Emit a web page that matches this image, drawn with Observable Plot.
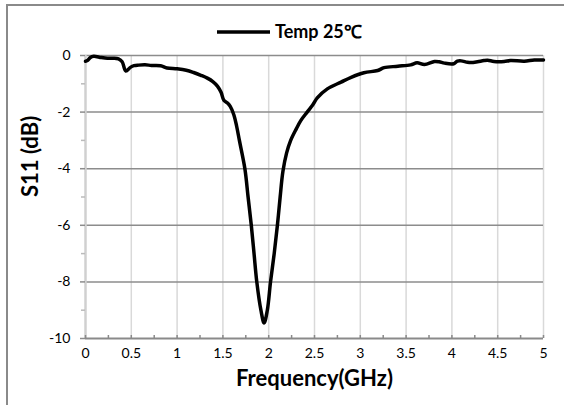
<!DOCTYPE html>
<html><head><meta charset="utf-8">
<script src="https://cdn.jsdelivr.net/npm/d3@7"></script>
<script src="https://cdn.jsdelivr.net/npm/@observablehq/plot@0.6"></script>
<style>
body{margin:0;background:#fff;}
#wrap{position:relative;width:564px;height:405px;overflow:hidden;}
#border{position:absolute;left:6px;top:4px;width:600px;height:500px;border-left:2px solid #8a8a8a;border-top:2px solid #8a8a8a;}
#wrap svg{position:absolute;left:0;top:0;}
</style></head><body><div id="wrap"><div id="border"></div></div>
<script>
const seriesName = "Temp 25℃";
const xTitle = "Frequency(GHz)";
const yTitle = "S11 (dB)";
const freq = [0, 0.02, 0.05, 0.09, 0.15, 0.24, 0.30, 0.36, 0.40, 0.44, 0.49, 0.53, 0.58, 0.65, 0.72, 0.82, 0.89, 1.0, 1.1, 1.18, 1.26, 1.33, 1.39, 1.44, 1.48, 1.51, 1.55, 1.58, 1.62, 1.65, 1.68, 1.74, 1.775, 1.81, 1.84, 1.87, 1.915, 1.95, 1.985, 2.02, 2.06, 2.095, 2.125, 2.155, 2.195, 2.24, 2.30, 2.35, 2.42, 2.48, 2.53, 2.64, 2.79, 2.90, 3.04, 3.19, 3.26, 3.41, 3.55, 3.62, 3.70, 3.81, 3.86, 3.92, 4.02, 4.06, 4.10, 4.17, 4.21, 4.28, 4.35, 4.39, 4.46, 4.57, 4.64, 4.79, 4.90, 5.0];
const s11 = [-0.2, -0.18, -0.08, -0.03, -0.06, -0.1, -0.1, -0.12, -0.22, -0.55, -0.42, -0.36, -0.34, -0.33, -0.35, -0.36, -0.44, -0.47, -0.52, -0.6, -0.7, -0.8, -0.92, -1.08, -1.3, -1.58, -1.68, -1.8, -2.1, -2.5, -3.0, -4.0, -5.0, -6.0, -7.0, -8.0, -9.0, -9.45, -9.0, -8.0, -7.0, -6.0, -5.0, -4.1, -3.45, -3.0, -2.6, -2.3, -2.0, -1.75, -1.5, -1.18, -0.94, -0.77, -0.61, -0.53, -0.43, -0.38, -0.33, -0.26, -0.32, -0.21, -0.22, -0.27, -0.29, -0.2, -0.19, -0.24, -0.25, -0.22, -0.18, -0.17, -0.21, -0.21, -0.18, -0.2, -0.16, -0.16];
const xTicks = [0, 0.5, 1, 1.5, 2, 2.5, 3, 3.5, 4, 4.5, 5];
const xMinorTicks = [0, 0.25, 0.5, 0.75, 1, 1.25, 1.5, 1.75, 2, 2.25, 2.5, 2.75, 3, 3.25, 3.5, 3.75, 4, 4.25, 4.5, 4.75, 5];
const yTicks = [-10, -8, -6, -4, -2, 0];
const yMinorTicks = [-9, -7, -5, -3, -1];

const data = freq.map((f, i) => ({f, v: s11[i]}));

const chart = Plot.plot({
  width: 564, height: 405,
  marginLeft: 85, marginRight: 21, marginTop: 55, marginBottom: 67,
  style: {fontFamily: "Lato, 'Open Sans', sans-serif", fontSize: "14px", color: "#000", background: "transparent", overflow: "visible"},
  x: {domain: [0, 5]},
  y: {domain: [-10, 0]},
  marks: [
    Plot.ruleX(xTicks.filter(d => d > 0), {stroke: "#d9d9d9", strokeWidth: 1.5}),
    Plot.ruleY(yTicks.filter(d => d > -10), {stroke: "#8c8c8c", strokeWidth: 1.5}),
    Plot.ruleX([0], {stroke: "#d0d0d0", strokeWidth: 2.5}),
    Plot.ruleY([-10], {stroke: "#8a8a8a", strokeWidth: 2}),
    Plot.axisY({ticks: yTicks, tickSize: 5, tickPadding: 10, stroke: "#8c8c8c", strokeWidth: 1.5, label: null, tickFormat: d => String(d)}),
    Plot.axisY({ticks: yMinorTicks, tickSize: 4, stroke: "#bbbbbb", strokeWidth: 1.5, text: null, label: null}),
    Plot.axisX({ticks: xMinorTicks, tickSize: -3, stroke: "#8a8a8a", strokeWidth: 1.5, text: null, label: null}),
    Plot.axisX({ticks: xTicks, tickSize: 0, tickPadding: 10, label: null, tickFormat: d => String(d)}),
    Plot.line(data, {x: "f", y: "v", stroke: "#000", strokeWidth: 3.5, curve: "catmull-rom"}),
    Plot.text([xTitle], {frameAnchor: "bottom", dy: 47, fontWeight: "bold", fontSize: 22, fill: "#000"}),
    Plot.text([yTitle], {frameAnchor: "left", dx: -55, rotate: -90, fontWeight: "bold", fontSize: 22, fill: "#000"})
  ]
});

const svg = d3.select(chart);
const lg = svg.append("g");
lg.append("line").attr("x1", 217).attr("x2", 270).attr("y1", 32).attr("y2", 32)
  .attr("stroke", "#000").attr("stroke-width", 3.5);
lg.append("text").attr("x", 275).attr("y", 32).attr("dy", "0.35em")
  .attr("text-anchor", "start")
  .attr("font-weight", "bold").attr("font-size", 18).attr("fill", "#000")
  .text(seriesName);

document.getElementById("wrap").appendChild(chart);
</script>
</body></html>
